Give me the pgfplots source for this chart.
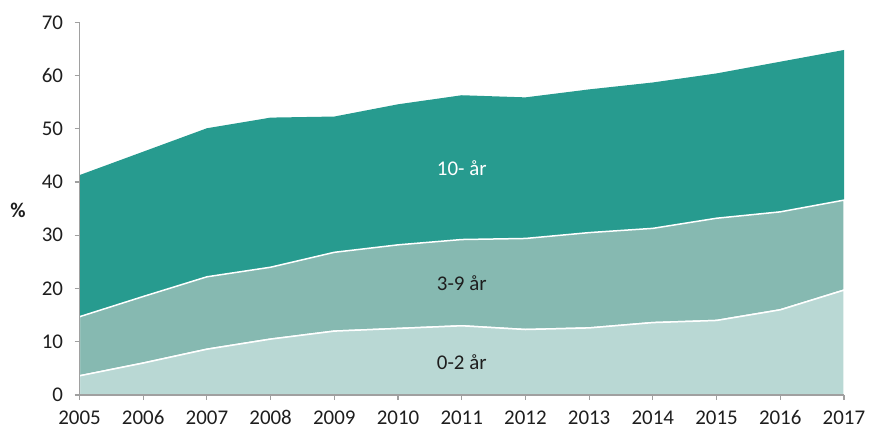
\documentclass[border=0pt]{standalone}
\usepackage{pgfplots}
\pgfplotsset{compat=1.18}
\usepackage{fontspec}
\setmainfont{Carlito}
\definecolor{cTop}{HTML}{279B8F}
\definecolor{cMid}{HTML}{86B9B1}
\definecolor{cBot}{HTML}{B9D8D4}
\definecolor{axgray}{HTML}{A0A0A0}
\definecolor{txt}{HTML}{1E1E1E}
\begin{document}
\begin{tikzpicture}
\path[use as bounding box] (-79.5bp,-37bp) rectangle (789.5bp,395bp);
\begin{axis}[
  at={(0,0)}, anchor=south west,
  scale only axis, width=764.5bp, height=372.7bp,
  xmin=2005, xmax=2017, ymin=0, ymax=70,
  xtick={2005,...,2017}, ytick={0,10,...,70},
  axis x line=bottom, axis y line=left,
  axis line style={-, axgray, line width=1.2bp},
  tick style={axgray, line width=1.2bp},
  major tick length=5bp, tick align=outside,
  stack plots=y, axis on top,
  /pgf/number format/assume math mode=true,
  /pgf/number format/1000 sep={},
  ticklabel style={font=\fontsize{21}{24}\selectfont, text=txt},
  yticklabel style={xshift=-8bp},
  xticklabel style={yshift=-10bp, inner sep=1bp, text height=13bp, text depth=0bp},
  clip=false,
  after end axis/.code={
    \node[text=white, font=\fontsize{21}{24}\selectfont] at (axis cs:2011,42.6) {10- år};
    \node[text=txt, font=\fontsize{21}{24}\selectfont] at (axis cs:2011,21) {3-9 år};
    \node[text=txt, font=\fontsize{21}{24}\selectfont] at (axis cs:2011,6.2) {0-2 år};
    \node[text=txt, font=\bfseries\fontsize{21}{24}\selectfont, xshift=-61.5bp] at (axis cs:2005,34.7) {\%};
  },
]
\addplot[fill=cBot, draw=white, line width=1.5bp] coordinates {
(2005,3.6) (2006,6.0) (2007,8.6) (2008,10.5) (2009,12.0) (2010,12.5) (2011,13.0)
(2012,12.3) (2013,12.6) (2014,13.6) (2015,14.0) (2016,16.0) (2017,19.7)} \closedcycle;
\addplot[fill=cMid, draw=white, line width=1.5bp] coordinates {
(2005,11.1) (2006,12.5) (2007,13.6) (2008,13.5) (2009,14.8) (2010,15.7) (2011,16.2)
(2012,17.1) (2013,17.9) (2014,17.7) (2015,19.2) (2016,18.4) (2017,16.9)} \closedcycle;
\addplot[fill=cTop, draw=none] coordinates {
(2005,26.6) (2006,27.2) (2007,27.9) (2008,28.1) (2009,25.5) (2010,26.4) (2011,27.1)
(2012,26.5) (2013,26.9) (2014,27.4) (2015,27.2) (2016,28.2) (2017,28.2)} \closedcycle;
\end{axis}
\end{tikzpicture}
\end{document}
